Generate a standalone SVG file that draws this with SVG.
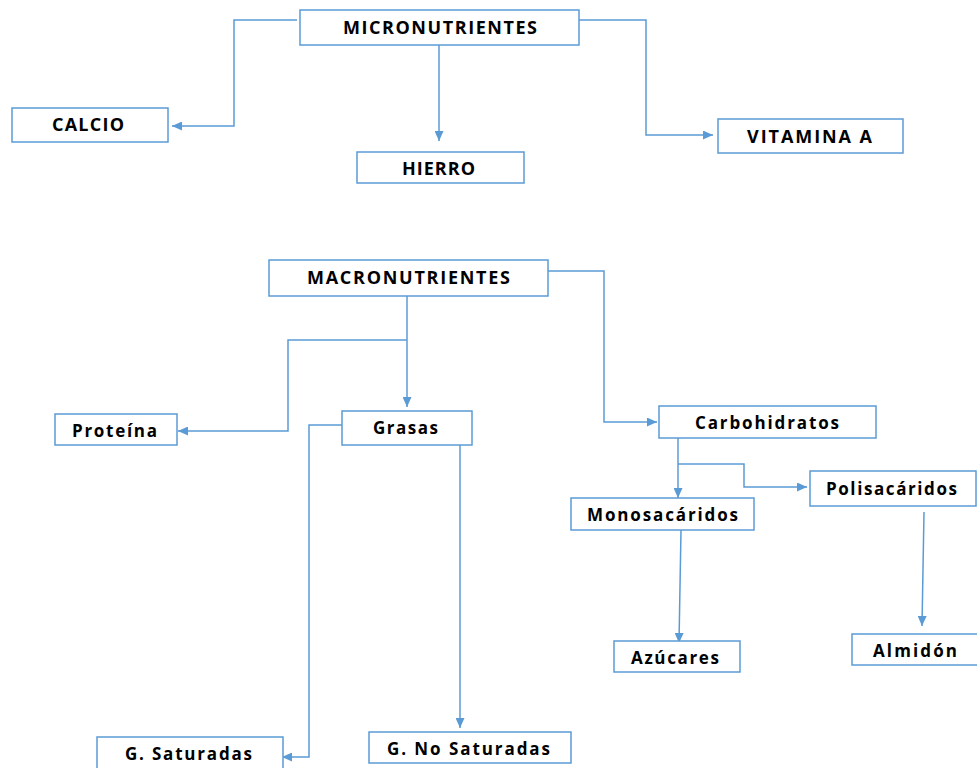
<svg xmlns="http://www.w3.org/2000/svg" width="977" height="768" viewBox="0 0 977 768">
<defs>
<style>
.box{fill:#fff;stroke:#5B9BD5;stroke-width:1.5}
.lbl{font-family:"Open Sans","Liberation Sans",Arial,sans-serif;font-weight:bold;font-size:17px;fill:#000}
.cap{font-size:18px}
.con{fill:none;stroke:#5B9BD5;stroke-width:1.5}
</style>
<marker id="ah" markerUnits="userSpaceOnUse" markerWidth="10" markerHeight="9" refX="10" refY="4.5" orient="auto" viewBox="0 0 10 9">
<path d="M0,0 L10,4.5 L0,9 z" fill="#5B9BD5"/>
</marker>
</defs>
<rect width="977" height="768" fill="#fff"/>
<g id="connectors">
<path class="con" d="M297,20 H234 V126 H172" marker-end="url(#ah)"/>
<path class="con" d="M439,42 V141" marker-end="url(#ah)"/>
<path class="con" d="M579,20 H646 V135 H713" marker-end="url(#ah)"/>
<path class="con" d="M407,293 V407" marker-end="url(#ah)"/>
<path class="con" d="M407,340 H288 V431 H178" marker-end="url(#ah)"/>
<path class="con" d="M548,271 H604 V422 H657" marker-end="url(#ah)"/>
<path class="con" d="M678,433 V498" marker-end="url(#ah)"/>
<path class="con" d="M678,464 H744 V487 H807" marker-end="url(#ah)"/>
<path class="con" d="M681,530 L679,643" marker-end="url(#ah)"/>
<path class="con" d="M924,512 L922,626" marker-end="url(#ah)"/>
<path class="con" d="M342,425 H309 V757 H282" marker-end="url(#ah)"/>
<path class="con" d="M460,442 V728" marker-end="url(#ah)"/>
</g>
<g id="micronutrientes"><rect class="box" x="300" y="10" width="279" height="35"/><text class="lbl cap" x="343" y="34" textLength="194">MICRONUTRIENTES</text></g>
<g id="calcio"><rect class="box" x="12" y="108" width="156" height="34"/><text class="lbl cap" x="52" y="131" textLength="72">CALCIO</text></g>
<g id="hierro"><rect class="box" x="357" y="152" width="167" height="31"/><text class="lbl cap" x="402" y="175" textLength="73">HIERRO</text></g>
<g id="vitamina-a"><rect class="box" x="718" y="119" width="185" height="34"/><text class="lbl cap" x="747" y="143" textLength="125">VITAMINA A</text></g>
<g id="macronutrientes"><rect class="box" x="269" y="260" width="279" height="36"/><text class="lbl cap" x="307" y="284" textLength="203">MACRONUTRIENTES</text></g>
<g id="proteina"><rect class="box" x="55" y="414" width="122" height="31"/><text class="lbl" x="72" y="437" textLength="85">Proteína</text></g>
<g id="grasas"><rect class="box" x="342" y="411" width="130" height="34"/><text class="lbl" x="373" y="434" textLength="65">Grasas</text></g>
<g id="carbohidratos"><rect class="box" x="659" y="406" width="217" height="32"/><text class="lbl" x="695" y="429" textLength="144">Carbohidratos</text></g>
<g id="polisacaridos"><rect class="box" x="810" y="471" width="166" height="35"/><text class="lbl" x="826" y="495" textLength="131">Polisacáridos</text></g>
<g id="monosacaridos"><rect class="box" x="571" y="498" width="183" height="32"/><text class="lbl" x="587" y="521" textLength="151">Monosacáridos</text></g>
<g id="azucares"><rect class="box" x="614" y="641" width="126" height="31"/><text class="lbl" x="631" y="664" textLength="88">Azúcares</text></g>
<g id="almidon"><rect class="box" x="852" y="634" width="130" height="31"/><text class="lbl" x="873" y="657" textLength="84">Almidón</text></g>
<g id="g-saturadas"><rect class="box" x="97" y="737" width="186" height="40"/><text class="lbl" x="125" y="760" textLength="127">G. Saturadas</text></g>
<g id="g-no-saturadas"><rect class="box" x="369" y="732" width="202" height="31"/><text class="lbl" x="387" y="755" textLength="163">G. No Saturadas</text></g>
</svg>
